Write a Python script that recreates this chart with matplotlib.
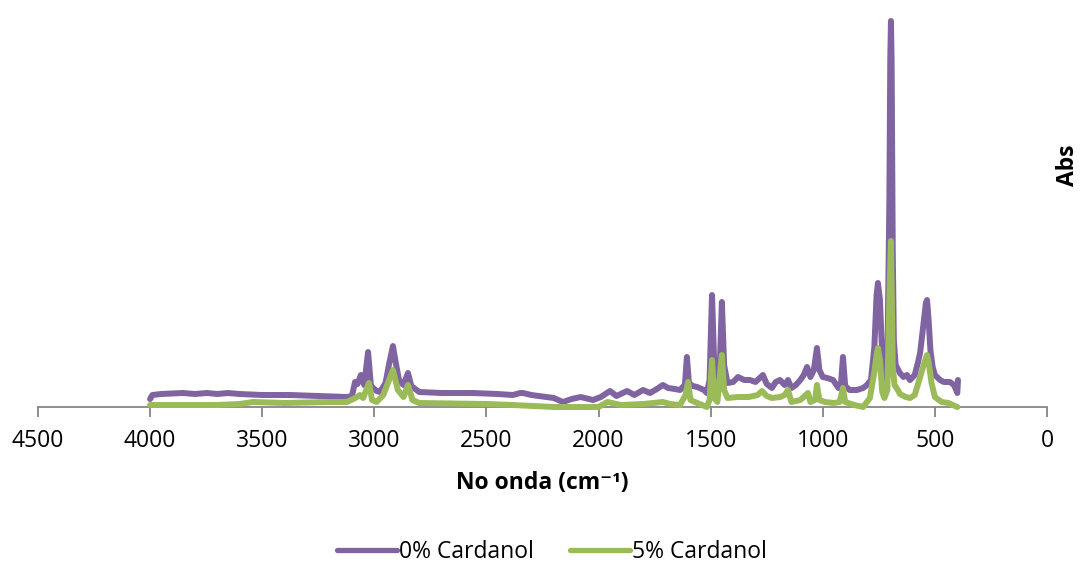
import matplotlib
matplotlib.use("Agg")
import matplotlib.pyplot as plt
from matplotlib.lines import Line2D

plt.rcParams['font.family'] = ['Open Sans', 'DejaVu Sans']

# Wavenumber (cm-1) and absorbance
wn_0 = [4000, 3990, 3950, 3854, 3800, 3747, 3700, 3653, 3600, 3500, 3376, 3250, 3122, 3100,
        3086, 3075, 3060, 3045, 3028, 3015, 2990, 2975, 2950, 2935, 2917, 2905, 2890, 2870,
        2850, 2835, 2800, 2700, 2560, 2450, 2382, 2350, 2337, 2300, 2200, 2159, 2120, 2080,
        2025, 1990, 1949, 1920, 1873, 1840, 1802, 1770, 1740, 1713, 1690, 1660, 1637, 1615,
        1606, 1597, 1580, 1560, 1530, 1517, 1505, 1494, 1484, 1472, 1460, 1450, 1440, 1425,
        1400, 1378, 1350, 1325, 1300, 1267, 1250, 1227, 1210, 1191, 1170, 1155, 1140, 1120,
        1100, 1085, 1070, 1055, 1040, 1026, 1015, 1000, 980, 954, 930, 920, 910, 900, 880,
        847, 820, 803, 785, 770, 760, 754, 745, 735, 725, 712, 703, 699, 696, 693, 688, 683,
        675, 656, 640, 625, 611, 590, 575, 566, 550, 540, 535, 528, 520, 510, 500, 477, 460,
        433, 415, 405, 400, 397]
abs_0 = [0.008, 0.012, 0.013, 0.014, 0.013, 0.014, 0.013, 0.014, 0.013, 0.012, 0.012, 0.011, 0.010, 0.011,
         0.025, 0.023, 0.032, 0.022, 0.055, 0.021, 0.016, 0.015, 0.024, 0.042, 0.061, 0.045, 0.027, 0.022,
         0.034, 0.021, 0.015, 0.014, 0.014, 0.013, 0.012, 0.014, 0.014, 0.012, 0.009, 0.005, 0.008, 0.010,
         0.007, 0.010, 0.016, 0.011, 0.016, 0.012, 0.017, 0.014, 0.018, 0.022, 0.019, 0.018, 0.017, 0.022,
         0.050, 0.024, 0.021, 0.020, 0.017, 0.014, 0.027, 0.112, 0.042, 0.027, 0.037, 0.105, 0.042, 0.024,
         0.025, 0.030, 0.027, 0.027, 0.025, 0.032, 0.023, 0.019, 0.025, 0.027, 0.022, 0.027, 0.019, 0.022,
         0.027, 0.032, 0.040, 0.030, 0.037, 0.059, 0.037, 0.030, 0.029, 0.027, 0.019, 0.019, 0.050, 0.021, 0.017,
         0.017, 0.019, 0.022, 0.027, 0.060, 0.112, 0.124, 0.107, 0.052, 0.027, 0.042, 0.207, 0.347, 0.386, 0.347, 0.157, 0.067,
         0.042, 0.034, 0.030, 0.032, 0.027, 0.032, 0.045, 0.054, 0.085, 0.104, 0.107, 0.087, 0.057, 0.040, 0.032, 0.027, 0.025,
         0.025, 0.022, 0.017, 0.014, 0.027]

wn_5 = [4000, 3900, 3800, 3700, 3600, 3541, 3400, 3200, 3122, 3085, 3064, 3050, 3024, 3010,
        2990, 2960, 2917, 2895, 2870, 2850, 2830, 2800, 2500, 2382, 2200, 2159, 2050, 2000,
        1960, 1900, 1800, 1713, 1680, 1637, 1612, 1601, 1590, 1560, 1517, 1505, 1494, 1484,
        1470, 1450, 1440, 1425, 1378, 1330, 1290, 1271, 1250, 1227, 1190, 1170, 1155, 1140,
        1100, 1066, 1055, 1035, 1026, 1015, 990, 950, 925, 910, 900, 860, 820, 790, 770, 760,
        754, 745, 735, 725, 712, 703, 696, 692, 688, 680, 665, 656, 630, 611, 590, 570, 550,
        535, 528, 515, 500, 470, 440, 420, 400]
abs_5 = [0.002, 0.002, 0.002, 0.002, 0.003, 0.005, 0.004, 0.005, 0.005, 0.009, 0.012, 0.009, 0.024, 0.007,
         0.005, 0.012, 0.037, 0.017, 0.010, 0.022, 0.007, 0.004, 0.003, 0.002, 0.000, 0.000, 0.000, 0.000,
         0.005, 0.002, 0.003, 0.005, 0.003, 0.002, 0.012, 0.025, 0.007, 0.004, 0.000, 0.007, 0.047, 0.009,
         0.005, 0.052, 0.017, 0.009, 0.010, 0.010, 0.012, 0.016, 0.011, 0.009, 0.010, 0.012, 0.017, 0.005,
         0.007, 0.014, 0.005, 0.007, 0.022, 0.007, 0.005, 0.004, 0.005, 0.019, 0.005, 0.002, 0.000, 0.009, 0.035, 0.052,
         0.059, 0.047, 0.015, 0.009, 0.017, 0.107, 0.166, 0.107, 0.040, 0.022, 0.017, 0.013, 0.010, 0.009, 0.012, 0.027, 0.042,
         0.052, 0.045, 0.024, 0.010, 0.005, 0.004, 0.002, 0.000]

series_names = ["0% Cardanol", "5% Cardanol"]
series_colors = ["#8064A2", "#9BBB59"]
x_ticks = [4500, 4000, 3500, 3000, 2500, 2000, 1500, 1000, 500, 0]

W, H = 1084, 566
fig = plt.figure(figsize=(W / 100, H / 100), dpi=100)
ax = fig.add_axes([38 / W, 1 - 407 / H, (1047 - 38) / W, (407 - 15) / H])

ax.plot(wn_0, abs_0, color=series_colors[0], lw=4.3, solid_joinstyle='round',
        solid_capstyle='round', clip_on=False, zorder=3)
ax.plot(wn_5, abs_5, color=series_colors[1], lw=4.3, solid_joinstyle='round',
        solid_capstyle='round', clip_on=False, zorder=4)

ax.set_xlim(4500, 0)
ax.set_ylim(0, 0.392)
ax.set_xticks(x_ticks)
ax.set_xticklabels([str(t) for t in x_ticks], fontsize=16.5, color='#000000')
ax.tick_params(axis='x', direction='out', length=7, width=1.3, color='#868686', pad=9)
ax.set_yticks([])
for s in ['top', 'right', 'left']:
    ax.spines[s].set_visible(False)
ax.spines['bottom'].set_color('#868686')
ax.spines['bottom'].set_linewidth(1.3)

fig.text(542 / W, 1 - 483 / H, 'No onda (cm\u207b\u00b9)', fontsize=16.5,
         fontweight='bold', ha='center', va='center')
fig.text(1068 / W, 1 - 165 / H, 'Abs', fontsize=16.5, fontweight='bold',
         rotation=90, ha='center', va='center')

handles = [Line2D([0], [0], color=c, lw=3.8, solid_capstyle='round') for c in series_colors]
fig.legend(handles, series_names, loc='center', bbox_to_anchor=(552 / W, 1 - 552 / H),
           ncol=2, frameon=False, fontsize=16.5, handlelength=2.6, handletextpad=0.1,
           columnspacing=1.6)

fig.savefig('out.png', dpi=100)
